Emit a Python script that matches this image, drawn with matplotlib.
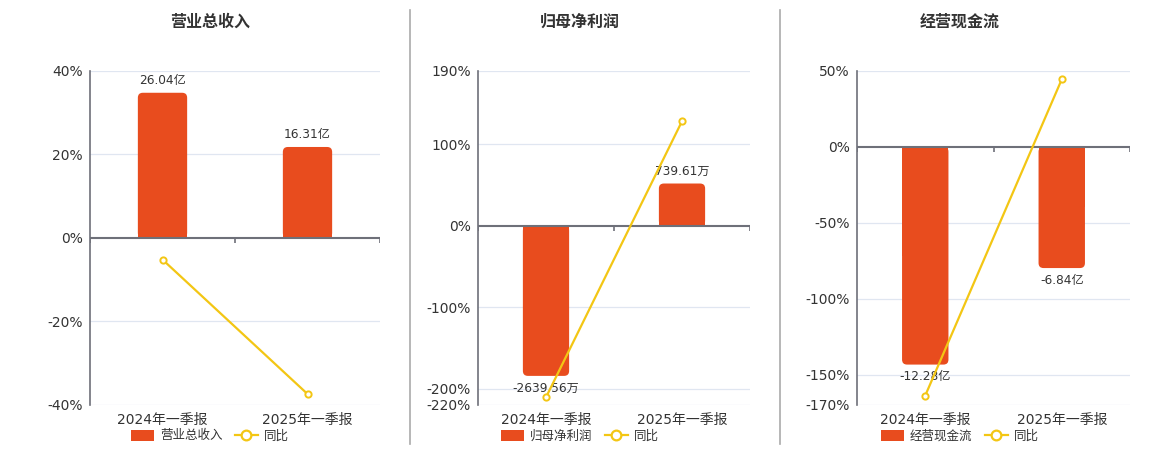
import matplotlib
matplotlib.use("Agg")
import matplotlib.pyplot as plt
from matplotlib.patches import FancyBboxPatch, Rectangle, Patch
from matplotlib.lines import Line2D

plt.rcParams['font.family'] = ['DejaVu Sans', 'Noto Sans CJK SC']

categories = ["2024年一季报", "2025年一季报"]
titles = ["营业总收入", "归母净利润", "经营现金流"]

rev_values = [26.04, 16.31]
rev_labels = ["26.04亿", "16.31亿"]
rev_yoy = [-5.2, -37.36]

np_values = [-2639.56, 739.61]
np_labels = ["-2639.56万", "739.61万"]
np_yoy = [-210.6, 128.02]

cf_values = [-12.28, -6.84]
cf_labels = ["-12.28亿", "-6.84亿"]
cf_yoy = [-163.8, 44.3]

pct_ticks = [[-40, -20, 0, 20, 40],
             [-220, -200, -100, 0, 100, 190],
             [-170, -150, -100, -50, 0, 50]]
pct_lims = [(-40, 40), (-220, 190), (-170, 50)]
# bar value per percent unit (aligns bar zero with 0%)
bar_scale = [30 / 40, 2639.56 / 184.3, 12.28 / 143.4]

W, H = 1160, 450
BAR_C = '#E84C1E'
LINE_C = '#F3C614'
AX_C = '#6E7079'
GRID_C = '#E0E6F1'
TXT_C = '#333333'

fig = plt.figure(figsize=(W / 100, H / 100), dpi=100)

axes_px = [(90, 380), (478, 750), (857, 1130)]
top_px, bot_px = 70.7, 405
centers = [210, 580, 960]

panels = [
    (rev_values, rev_labels, rev_yoy),
    (np_values, np_labels, np_yoy),
    (cf_values, cf_labels, cf_yoy),
]

for i, (vals, labs, yoy) in enumerate(panels):
    l, r = axes_px[i]
    ax = fig.add_axes([l / W, 1 - bot_px / H, (r - l) / W, (bot_px - top_px) / H])
    ax.set_xlim(-0.5, 1.5)
    ax.set_ylim(*pct_lims[i])
    ax.set_yticks(pct_ticks[i])
    ax.set_yticklabels([f"{t}%" for t in pct_ticks[i]])
    ax.tick_params(axis='y', length=0, pad=5, labelsize=10, labelcolor=TXT_C)
    ax.set_xticks([0, 1])
    ax.set_xticklabels(categories)
    ax.tick_params(axis='x', length=0, pad=6, labelsize=10, labelcolor=TXT_C)
    for s in ['top', 'right', 'bottom']:
        ax.spines[s].set_visible(False)
    ax.spines['left'].set_color(AX_C)
    ax.spines['left'].set_linewidth(1.2)

    # bar axis
    bx = ax.twinx()
    lo, hi = pct_lims[i]
    k = bar_scale[i]
    bx.set_ylim(lo * k, hi * k)
    bx.axis('off')
    bx.set_zorder(1)
    ax.set_zorder(2)
    ax.patch.set_visible(False)
    for t in pct_ticks[i]:
        if t != 0:
            bx.axhline(t * k, color=GRID_C, lw=0.9, zorder=0)

    wpx = r - l
    hpx = bot_px - top_px
    x_per_px = 2.0 / wpx
    y_per_px = (hi - lo) * k / hpx
    bars = bx.bar([0, 1], vals, width=0.34, color=BAR_C)
    rad_px = 5
    for b, v in zip(bars, vals):
        b.set_visible(False)
        x0, w = b.get_x(), b.get_width()
        y0 = min(0, v)
        hgt = abs(v)
        fb = FancyBboxPatch((x0, y0), w, hgt,
                            boxstyle=f"round,pad=0,rounding_size={rad_px * x_per_px}",
                            mutation_aspect=y_per_px / x_per_px,
                            fc=BAR_C, ec='none', zorder=2)
        bx.add_patch(fb)
        bx.add_patch(Rectangle((x0, y0 if v > 0 else v / 2), w, hgt / 2,
                               fc=BAR_C, ec='none', zorder=2))
    for xi, (v, t) in enumerate(zip(vals, labs)):
        off = 4 if v > 0 else -4
        bx.annotate(t, (xi, v), xytext=(0, off), textcoords='offset points',
                    ha='center', va='bottom' if v > 0 else 'top',
                    fontsize=8.7, color=TXT_C, zorder=3)

    # zero line and ticks
    ax.axhline(0, color=AX_C, lw=1.5, zorder=3)
    tick_len = 5 * (hi - lo) / hpx
    ax.vlines([-0.5, 0.5, 1.5], 0, -tick_len, color=AX_C, lw=1.2, zorder=3)

    ax.plot([0, 1], yoy, color=LINE_C, lw=1.6, marker='o', ms=4.5,
            mfc='white', mec=LINE_C, mew=1.4, zorder=5, clip_on=False)

    fig.text(centers[i] / W, 1 - 22 / H, titles[i], ha='center', va='center',
             fontsize=11.5, fontweight='bold', color=TXT_C)

    handles = [Patch(fc=BAR_C, ec='none'),
               Line2D([0], [0], color=LINE_C, lw=1.6, marker='o', ms=7,
                      mfc='white', mec=LINE_C, mew=1.6)]
    fig.legend(handles, [titles[i], "同比"], loc='center',
               bbox_to_anchor=(centers[i] / W, 1 - 436 / H), ncol=2,
               frameon=False, fontsize=9, labelcolor=TXT_C,
               handlelength=1.8, handleheight=1.0, columnspacing=1.0,
               handletextpad=0.5, borderpad=0)

for xs in [410, 780]:
    fig.add_artist(Line2D([xs / W, xs / W], [1 - 10 / H, 1 - 444 / H],
                          color='#AAAAAA', lw=1.2))

fig.savefig("out.png", dpi=100, facecolor='white')
